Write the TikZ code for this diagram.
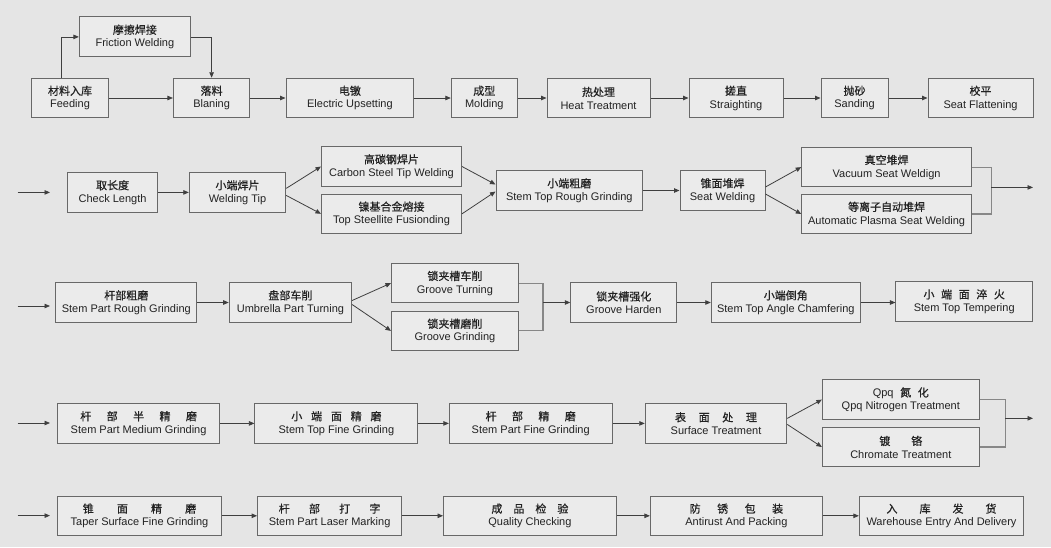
\documentclass[tikz,border=0pt]{standalone}
\usepackage{fontspec}
\setmainfont{Liberation Sans}
\newfontfamily\cjk[FakeBold=0.6]{Noto Sans CJK SC}
\usetikzlibrary{arrows.meta}
\definecolor{bgcol}{HTML}{E5E5E5}
\definecolor{boxfill}{HTML}{EBEBEB}
\definecolor{boxline}{HTML}{686868}
\definecolor{flowcol}{HTML}{3F3F3F}
\definecolor{joincol}{HTML}{878787}
\definecolor{txtcol}{HTML}{222222}
\newcommand{\cgap}[1]{\hspace{#1em}}

\begin{document}
\begin{tikzpicture}[x=1pt, y=-1pt,
  box/.style={draw=boxline, fill=boxfill, line width=1pt, minimum height=39.5pt,
    inner sep=0pt, align=center, text=txtcol, font=\fontsize{11}{13}\selectfont},
  flow/.style={draw=flowcol, line width=0.8pt, -{Triangle[length=5.5pt,width=4.5pt]}},
  joinline/.style={draw=joincol, line width=1.1pt}]

  \fill[bgcol] (0,0) rectangle (1051,547);
  \useasboundingbox (0,0) rectangle (1051,547);

  % Row 1
  \node[box, minimum width=77pt] (feed) at (70,98) {{\cjk 材料入库}\\Feeding};
  \node[box, minimum width=111pt, minimum height=40pt] (fric) at (134.9,36.9) {{\cjk 摩擦焊接}\\Friction Welding};
  \node[box, minimum width=76.4pt] (blan) at (211.6,98) {{\cjk 落料}\\Blaning};
  \node[box, minimum width=127.8pt] (upset) at (349.9,98) {{\cjk 电镦}\\Electric Upsetting};
  \node[box, minimum width=66pt] (mold) at (484.3,98) {{\cjk 成型}\\Molding};
  \node[box, minimum width=103pt] (heat) at (598.5,98) {{\cjk 热处理}\\Heat Treatment};
  \node[box, minimum width=94pt] (strai) at (736,98) {{\cjk 搓直}\\Straighting};
  \node[box, minimum width=67pt] (sand) at (854.5,98) {{\cjk 抛砂}\\Sanding};
  \node[box, minimum width=105pt] (flat) at (980.5,98) {{\cjk 校平}\\Seat Flattening};

  \draw[flow] ([xshift=-9pt]feed.north) |- (fric.west);
  \draw[flow] (fric.east) -| (blan.north);
  \draw[flow] (feed.east) -- (blan.west);
  \draw[flow] (blan.east) -- (upset.west);
  \draw[flow] (upset.east) -- (mold.west);
  \draw[flow] (mold.east) -- (heat.west);
  \draw[flow] (heat.east) -- (strai.west);
  \draw[flow] (strai.east) -- (sand.west);
  \draw[flow] (sand.east) -- (flat.west);

  % Row 2
  \coordinate (lead2a) at (17.6,192.4);
  \coordinate (lead2b) at (50,192.4);
  \node[box, minimum width=90pt] (chk) at (112.6,192.4) {{\cjk 取长度}\\Check Length};
  \node[box, minimum width=96.4pt] (wtip) at (237.5,192.4) {{\cjk 小端焊片}\\Welding Tip};
  \node[box, minimum width=140pt] (carb) at (391.5,166.5) {{\cjk 高碳钢焊片}\\Carbon Steel Tip Welding};
  \node[box, minimum width=140pt] (stel) at (391.5,213.8) {{\cjk 镍基合金熔接}\\Top Steellite Fusionding};
  \node[box, minimum width=146.6pt] (rough) at (569.3,190.5) {{\cjk 小端粗磨}\\Stem Top Rough Grinding};
  \node[box, minimum width=85pt] (seat) at (722.5,190.5) {{\cjk 锥面堆焊}\\Seat Welding};
  \node[box, minimum width=169.7pt] (vac) at (886.6,167.1) {{\cjk 真空堆焊}\\Vacuum Seat Weldign};
  \node[box, minimum width=169.7pt] (plas) at (886.6,214) {{\cjk 等离子自动堆焊}\\Automatic Plasma Seat Welding};
  \coordinate (jn2) at (991.4,187.4);
  \coordinate (out2) at (1033,187.4);

  \draw[flow] (lead2a) -- (lead2b);
  \draw[flow] (chk.east) -- (wtip.west);
  \draw[flow] ([yshift=4pt]wtip.east) -- (carb.west);
  \draw[flow] ([yshift=-3pt]wtip.east) -- (stel.west);
  \draw[flow] (carb.east) -- ([yshift=6pt]rough.west);
  \draw[flow] (stel.east) -- ([yshift=-1pt]rough.west);
  \draw[flow] (rough.east) -- (seat.west);
  \draw[flow] ([yshift=3.5pt]seat.east) -- (vac.west);
  \draw[flow] ([yshift=-3.5pt]seat.east) -- (plas.west);
  \draw[joinline] (vac.east) -| (jn2) |- (plas.east);
  \draw[flow] (jn2) -- (out2);

  % Row 3
  \coordinate (lead3a) at (17.6,306);
  \coordinate (lead3b) at (50,306);
  \node[box, minimum width=141pt] (prough) at (126.3,302.5) {{\cjk 杆部粗磨}\\Stem Part Rough Grinding};
  \node[box, minimum width=122.4pt] (umb) at (290.4,302.5) {{\cjk 盘部车削}\\Umbrella Part Turning};
  \node[box, minimum width=126.8pt] (gturn) at (454.9,283.1) {{\cjk 锁夹槽车削}\\Groove Turning};
  \node[box, minimum width=126.8pt] (ggrind) at (454.9,330.9) {{\cjk 锁夹槽磨削}\\Groove Grinding};
  \coordinate (jn3) at (543,302.5);
  \node[box, minimum width=106pt] (harden) at (623.8,302.5) {{\cjk 锁夹槽强化}\\Groove Harden};
  \node[box, minimum width=149pt] (chamf) at (785.8,302.5) {{\cjk 小端倒角}\\Stem Top Angle Chamfering};
  \node[box, minimum width=136.5pt] (temp) at (964.2,301.5) {{\cjk 小\cgap{0.6}端\cgap{0.6}面\cgap{0.6}淬\cgap{0.6}火}\\Stem Top Tempering};

  \draw[flow] (lead3a) -- (lead3b);
  \draw[flow] (prough.east) -- (umb.west);
  \draw[flow] ([yshift=2pt]umb.east) -- (gturn.west);
  \draw[flow] ([yshift=-2pt]umb.east) -- (ggrind.west);
  \draw[joinline] (gturn.east) -| (jn3) |- (ggrind.east);
  \draw[flow] (jn3) -- (harden.west);
  \draw[flow] (harden.east) -- (chamf.west);
  \draw[flow] (chamf.east) -- (chamf.east -| temp.west);

  % Row 4
  \coordinate (lead4a) at (17.6,423);
  \coordinate (lead4b) at (50,423);
  \node[box, minimum width=162.2pt] (pmed) at (138.6,423.4) {{\cjk 杆\cgap{1.4}部\cgap{1.4}半\cgap{1.4}精\cgap{1.4}磨}\\Stem Part Medium Grinding};
  \node[box, minimum width=163pt] (tfine) at (336.4,423.4) {{\cjk 小\cgap{0.8}端\cgap{0.8}面\cgap{0.8}精\cgap{0.8}磨}\\Stem Top Fine Grinding};
  \node[box, minimum width=162.7pt] (pfine) at (530.7,423.4) {{\cjk 杆\cgap{1.4}部\cgap{1.4}精\cgap{1.4}磨}\\Stem Part Fine Grinding};
  \node[box, minimum width=141.5pt] (surf) at (716,423.4) {{\cjk 表\cgap{1.15}面\cgap{1.15}处\cgap{1.15}理}\\Surface Treatment};
  \node[box, minimum width=156.8pt] (qpq) at (900.8,399.6) {Qpq\cgap{0.6}{\cjk 氮\cgap{0.6}化}\\Qpq Nitrogen Treatment};
  \node[box, minimum width=156.8pt] (chrom) at (900.8,447) {{\cjk 镀\cgap{1.9}铬}\\Chromate Treatment};
  \coordinate (jn4) at (1005.3,418.3);
  \coordinate (out4) at (1033,418.3);

  \draw[flow] (lead4a) -- (lead4b);
  \draw[flow] (pmed.east) -- (tfine.west);
  \draw[flow] (tfine.east) -- (pfine.west);
  \draw[flow] (pfine.east) -- (surf.west);
  \draw[flow] ([yshift=5pt]surf.east) -- (qpq.west);
  \draw[flow] ([yshift=-1pt]surf.east) -- (chrom.west);
  \draw[joinline] (qpq.east) -| (jn4) |- (chrom.east);
  \draw[flow] (jn4) -- (out4);

  % Row 5
  \coordinate (lead5a) at (17.6,515.6);
  \coordinate (lead5b) at (50,515.6);
  \node[box, minimum width=164pt] (taper) at (139.5,515.8) {{\cjk 锥\cgap{2.1}面\cgap{2.1}精\cgap{2.1}磨}\\Taper Surface Fine Grinding};
  \node[box, minimum width=144pt] (laser) at (329.6,515.8) {{\cjk 杆\cgap{1.75}部\cgap{1.75}打\cgap{1.75}字}\\Stem Part Laser Marking};
  \node[box, minimum width=172.7pt] (qual) at (529.9,515.8) {{\cjk 成\cgap{1}品\cgap{1}检\cgap{1}验}\\Quality Checking};
  \node[box, minimum width=172pt] (anti) at (736.4,515.8) {{\cjk 防\cgap{1.5}锈\cgap{1.5}包\cgap{1.5}装}\\Antirust And Packing};
  \node[box, minimum width=164.3pt] (ware) at (941.5,515.8) {{\cjk 入\cgap{2}库\cgap{2}发\cgap{2}货}\\Warehouse Entry And Delivery};

  \draw[flow] (lead5a) -- (lead5b);
  \draw[flow] (taper.east) -- (laser.west);
  \draw[flow] (laser.east) -- (qual.west);
  \draw[flow] (qual.east) -- (anti.west);
  \draw[flow] (anti.east) -- (ware.west);
\end{tikzpicture}
\end{document}
